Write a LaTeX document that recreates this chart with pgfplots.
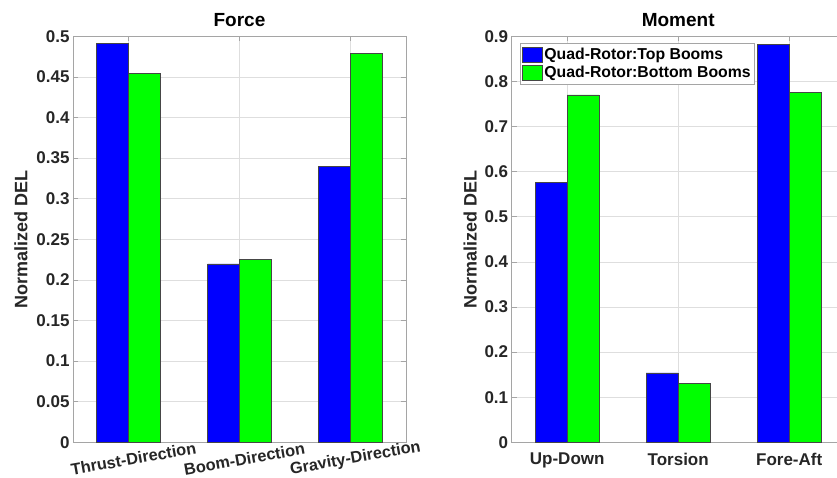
\documentclass[border=0pt]{standalone}
\usepackage{fontspec}
\setmainfont{Liberation Sans}
\usepackage{pgfplots}
\pgfplotsset{compat=1.18}
\definecolor{framegray}{RGB}{165,165,165}
\definecolor{gridgray}{RGB}{222,222,222}
\definecolor{txtgray}{RGB}{38,38,38}
\definecolor{edgegray}{RGB}{70,70,70}
\definecolor{mblue}{RGB}{0,0,255}
\definecolor{mgreen}{RGB}{0,255,0}
\pgfplotsset{
  swatch/.style={legend image code/.code={\draw[##1] (0pt,-7.5pt) rectangle (20pt,7.5pt);}},
  common/.style={
    scale only axis, width=333pt, height=406pt,
    ybar=0pt, bar width=32pt,
    xmin=0.5, xmax=3.5, xtick={1,2,3}, ymin=0,
    grid=major, major grid style={gridgray, line width=0.6pt},
    axis line style={framegray, line width=0.7pt},
    tick style={framegray, line width=0.7pt}, major tick length=5pt,
    tick align=inside,
    /pgf/number format/assume math mode=true,
    /pgf/number format/fixed, /pgf/number format/precision=2,
    tick label style={font=\bfseries\fontsize{17}{19}\selectfont, text=txtgray},
    ylabel={Normalized DEL},
    ylabel style={font=\bfseries\fontsize{18}{20}\selectfont, text=txtgray, anchor=center, inner sep=0pt},
    title style={font=\bfseries\fontsize{19}{21}\selectfont, text=black, at={(axis description cs:0.5,1)}, anchor=base, inner sep=0pt},
    every axis plot/.append style={draw=edgegray, line width=0.5pt},
  }
}
\begin{document}
\begin{tikzpicture}[x=1pt,y=1pt]
\begin{axis}[common, at={(73pt,34.7pt)}, anchor=south west,
  title={Force}, title style={yshift=3.3pt}, ymax=0.5,
  ytick={0,0.05,0.1,0.15,0.2,0.25,0.3,0.35,0.4,0.45,0.5},
  xticklabels={Thrust-Direction,Boom-Direction,Gravity-Direction},
  xticklabel style={font=\bfseries\fontsize{16.3}{18}\selectfont, rotate=10, anchor=center, yshift=-17pt, xshift=2pt},
  ylabel style={at={(axis description cs:-0.156,0.5)}},
]
\addplot[fill=mblue] coordinates {(1,0.491) (2,0.2196) (3,0.340)};
\addplot[fill=mgreen] coordinates {(1,0.454) (2,0.2254) (3,0.4786)};
\end{axis}
\begin{axis}[common, at={(511.7pt,34.7pt)}, anchor=south west,
  title={Moment}, title style={yshift=3.3pt}, ymax=0.9,
  ytick={0,0.1,0.2,0.3,0.4,0.5,0.6,0.7,0.8,0.9},
  xticklabels={Up-Down,Torsion,Fore-Aft},
  xticklabel style={yshift=-7pt},
  ylabel style={at={(axis description cs:-0.125,0.5)}},
  legend style={at={(axis description cs:0,1)}, anchor=north west, xshift=8pt, yshift=-7pt,
    draw=framegray, fill=white, font=\bfseries\fontsize{15.8}{17.5}\selectfont, text=black,
    inner xsep=2pt, inner ysep=2.5pt, row sep=1.5pt,
    /tikz/every even column/.style={column sep=2pt}},
  legend cell align=left,
]
\addplot[fill=mblue, swatch] coordinates {(1,0.5765) (2,0.154) (3,0.8825)};
\addplot[fill=mgreen, swatch] coordinates {(1,0.770) (2,0.131) (3,0.776)};
\legend{Quad-Rotor:Top Booms, Quad-Rotor:Bottom Booms}
\end{axis}
\pgfresetboundingbox
\useasboundingbox (0,0) rectangle (837,477);
\end{tikzpicture}
\end{document}
